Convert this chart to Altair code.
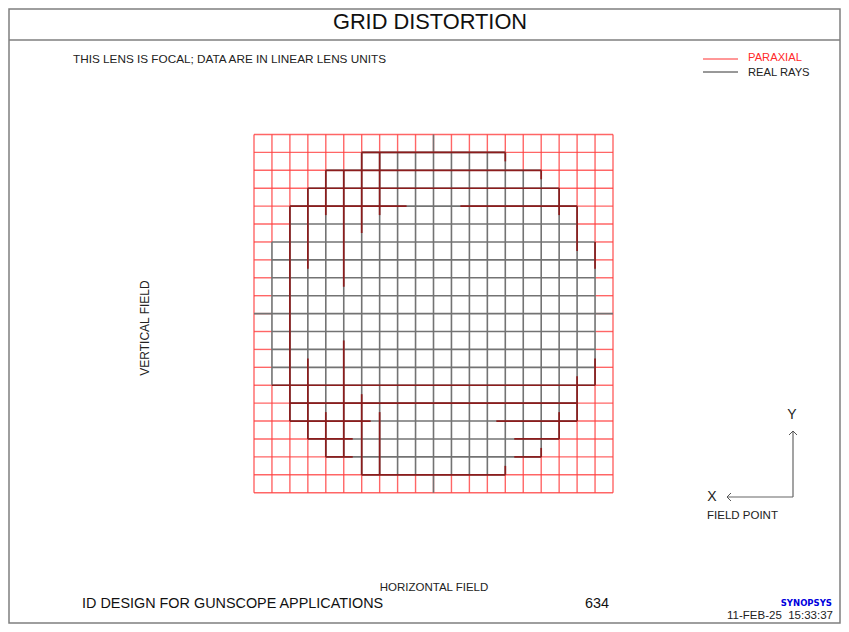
import altair as alt
import pandas as pd

FONT = "Liberation Sans"

# ---- grid data (grid index 0..20 in both directions; rows counted from top) ----
N = 20
# extent of the real-ray (black) line along each row / column; None = no real-ray line
black_start = [None, 6, 4, 3, 2, 2, 1, 1, 1, 1, 0, 1, 1, 1, 1, 2, 2, 3, 4, 6, None]
black_end = [None, 14, 16, 17, 18, 18, 19, 19, 19, 19, 20, 19, 19, 19, 19, 18, 18, 17, 16, 14, None]

# paraxial (red) pieces that coincide with real-ray lines inside the real-ray area
row_overlap = {
    1: [(6, 14)], 2: [(4, 16)], 3: [(3, 17)], 4: [(2, 8.5), (11.5, 18)],
    14: [(1, 19)], 15: [(2, 18)], 16: [(2, 6.5), (13.5, 18)],
    17: [(3, 5.5), (14.5, 17)], 18: [(4, 5.5), (14.5, 16)], 19: [(6, 14)],
}
col_overlap = {
    2: [(4, 16)], 3: [(3, 7.5), (12.5, 17)], 4: [(2, 4.5), (15.5, 18)],
    5: [(2, 8.5), (11.5, 18)], 6: [(1, 5.5), (14.5, 19)], 7: [(1, 4.5), (15.5, 19)],
    14: [(1, 1.5), (18.5, 19)], 16: [(2, 2.5), (17.5, 18)], 17: [(3, 4.5), (15.5, 17)],
    18: [(4, 6.5), (13.5, 16)], 19: [(6, 7.5), (12.5, 14)],
}

red_rows, black_rows, both_rows = [], [], []
for k in range(N + 1):
    s, e = black_start[k], black_end[k]
    if s is None:
        red_pieces = [(0, N)]
    else:
        os_, oe = (1, 19) if (s == 0 and e == N) else (s, e)
        red_pieces = [(0, os_), (oe, N)]
    for a, b in red_pieces:
        red_rows.append({"x": a, "x2": b, "y": k, "y2": k})
        red_rows.append({"x": k, "x2": k, "y": a, "y2": b})
    for a, b in row_overlap.get(k, []):
        both_rows.append({"x": a, "x2": b, "y": k, "y2": k})
    for a, b in col_overlap.get(k, []):
        both_rows.append({"x": k, "x2": k, "y": a, "y2": b})
    if s is not None:
        black_rows.append({"x": s, "x2": e, "y": k, "y2": k})
        black_rows.append({"x": k, "x2": k, "y": s, "y2": e})

red_df = pd.DataFrame(red_rows)
black_df = pd.DataFrame(black_rows)
both_df = pd.DataFrame(both_rows)

xs = alt.Scale(domain=[0, N], range=[246, 605])
ys = alt.Scale(domain=[0, N], range=[126.5, 484.7])


def grid_layer(df, color, opacity, width):
    return alt.Chart(df).mark_rule(color=color, opacity=opacity, strokeWidth=width).encode(
        x=alt.X("x:Q", scale=xs, axis=None),
        x2="x2:Q",
        y=alt.Y("y:Q", scale=ys, axis=None),
        y2="y2:Q",
    )


dummy = pd.DataFrame({"d": [0]})


def txt(s, x, y, size, align="left", color="#222222", angle=0, weight="normal", font=FONT):
    return alt.Chart(dummy).mark_text(
        text=s, align=align, baseline="middle", fontSize=size, color=color,
        angle=angle, fontWeight=weight, font=font,
    ).encode(x=alt.value(x), y=alt.value(y))


def hrule(x1, x2, y, color="#666666", w=1.2):
    return alt.Chart(dummy).mark_rule(color=color, strokeWidth=w).encode(
        x=alt.value(x1), x2=alt.value(x2), y=alt.value(y))


def vrule(x, y1, y2, color="#666666", w=1.2):
    return alt.Chart(dummy).mark_rule(color=color, strokeWidth=w).encode(
        x=alt.value(x), y=alt.value(y1), y2=alt.value(y2))


def chevron(x, y, path):
    return alt.Chart(dummy).mark_point(shape=path, filled=False, size=64, color="#555555",
                                       strokeWidth=1, opacity=1).encode(
        x=alt.value(x), y=alt.value(y))


border = alt.Chart(dummy).mark_rect(fillOpacity=0, stroke="#7f7f7f", strokeWidth=1.5).encode(
    x=alt.value(1), x2=alt.value(832), y=alt.value(1), y2=alt.value(615))

layers = [
    border,
    hrule(1, 832, 32, color="#7f7f7f", w=1.5),
    grid_layer(red_df, "#ff4040", 0.8, 1.4),
    grid_layer(black_df, "#737373", 1, 1.6),
    grid_layer(both_df, "#8c1c1c", 1, 1.7),
    txt("GRID DISTORTION", 422, 14, 21.8, align="center", color="#111111"),
    txt("THIS LENS IS FOCAL; DATA ARE IN LINEAR LENS UNITS", 65, 51, 11.75),
    hrule(695, 730, 51, color="#ff3030", w=1),
    txt("PARAXIAL", 740, 50, 11.2, color="#ff2a2a"),
    hrule(695, 730, 64, color="#333333", w=1),
    txt("REAL RAYS", 740, 64.5, 11.2),
    txt("VERTICAL FIELD", 137, 320, 12, align="center", angle=270),
    txt("HORIZONTAL FIELD", 426, 580, 11.5, align="center"),
    txt("ID DESIGN FOR GUNSCOPE APPLICATIONS", 74, 596, 14.4, color="#111111"),
    txt("634", 577, 596, 14.4, color="#111111"),
    txt("SYNOPSYS", 824, 595, 8.5, align="right", color="#0000dd", weight="bold", font="DejaVu Sans"),
    txt("11-FEB-25\u00a0\u00a015:33:37", 825, 608, 11.5, align="right"),
    vrule(785, 423, 489),
    hrule(719, 785, 489),
    chevron(785, 423, "M -1 1 L 0 0 L 1 1"),
    chevron(719, 489, "M 1 -1 L 0 0 L 1 1"),
    txt("Y", 784, 407, 14, align="center"),
    txt("X", 704, 489, 14, align="center"),
    txt("FIELD POINT", 699, 508, 11.5),
]

chart = alt.layer(*layers).properties(
    width=833, height=616, padding=0,
    autosize=alt.AutoSizeParams(type="none"),
    background="white",
).configure_view(strokeWidth=0)

chart.save("out.html", embed_options={"renderer": "svg", "actions": False})
